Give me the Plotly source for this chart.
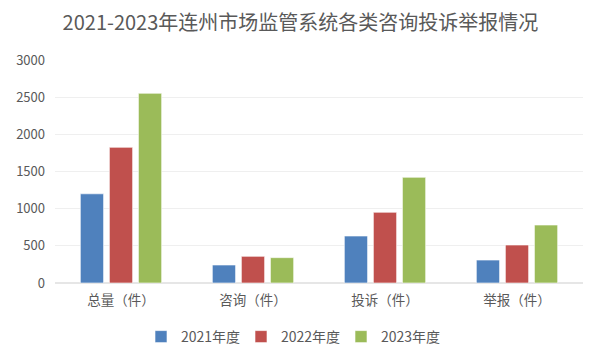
import plotly.graph_objects as go

categories = ["总量（件）", "咨询（件）", "投诉（件）", "举报（件）"]
series_names = ["2021年度", "2022年度", "2023年度"]
v2021 = [1200, 242, 632, 309]
v2022 = [1825, 359, 951, 511]
v2023 = [2552, 341, 1422, 780]
colors = ["#4F81BD", "#C0504D", "#9BBB59"]
title = "2021-2023年连州市场监管系统各类咨询投诉举报情况"
y_ticks = [0, 500, 1000, 1500, 2000, 2500, 3000]

font_family = "Noto Sans CJK SC, Noto Sans, sans-serif"
fig = go.Figure()
for name, vals, c in zip(series_names, [v2021, v2022, v2023], colors):
    fig.add_trace(go.Bar(
        x=categories, y=vals, name=name,
        marker=dict(color=c, line=dict(color="rgba(255,255,255,0.6)", width=1)),
    ))

fig.update_layout(
    width=603, height=363,
    margin=dict(l=47, r=28, t=52, b=88, autoexpand=False),
    paper_bgcolor="white", plot_bgcolor="white",
    barmode="group", bargap=0.34, bargroupgap=0.2,
    title=dict(text=title, x=0.485, xanchor="center", xref="container",
               y=1 - 15 / 363, yanchor="middle", yref="container",
               font=dict(family=font_family, size=20, color="#595959")),
    font=dict(family=font_family, color="#595959", size=13),
    legend=dict(orientation="h", x=283 / 603, xanchor="center", xref="container",
                y=1 - 329 / 363, yanchor="middle", yref="container",
                font=dict(size=14, color="#595959"), itemwidth=30, tracegroupgap=0,
                entrywidth=55, entrywidthmode="pixels"),
    showlegend=True,
)
fig.update_yaxes(range=[0, 3000], tickvals=y_ticks, showgrid=True, gridcolor="#EFEFEF",
                 gridwidth=1, zeroline=True, zerolinecolor="#E6E6E6", showline=False,
                 ticks="", tickfont=dict(size=13, color="#595959"), ticklabelstandoff=9,
                 automargin=False)
fig.update_xaxes(showline=True, linecolor="#E6E6E6", ticks="",
                 tickfont=dict(size=13.5, color="#595959"), ticklabelstandoff=5,
                 automargin=False)
fig.write_html("out.html")
